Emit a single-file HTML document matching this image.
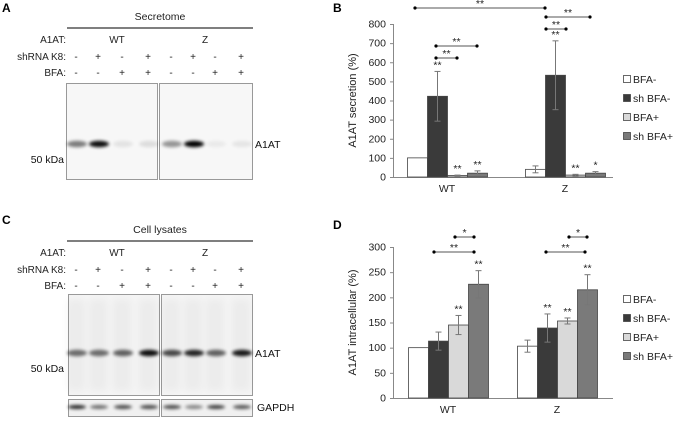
<!DOCTYPE html>
<html><head><meta charset="utf-8"><style>
body{margin:0;background:#fff;width:675px;height:417px;overflow:hidden}
svg{font-family:"Liberation Sans",sans-serif}
</style></head><body>
<svg id="fig" width="675" height="417" viewBox="0 0 675 417">
<defs>
<filter id="bl" x="-50%" y="-100%" width="200%" height="300%"><feGaussianBlur stdDeviation="1.5"/></filter>
<filter id="bl2" x="-50%" y="-50%" width="200%" height="200%"><feGaussianBlur stdDeviation="4"/></filter>
</defs>
<g font-weight="bold" font-size="12" fill="#000">
<text x="2" y="12">A</text>
<text x="333" y="12">B</text>
<text x="2" y="224">C</text>
<text x="333" y="229">D</text>
</g>
<g id="blotA"></g>
<g id="blotC"></g>
<g id="chartB"></g>
<g id="chartD"></g>
</svg>
<script>
const NS="http://www.w3.org/2000/svg";
function mk(p,t,a,txt){const e=document.createElementNS(NS,t);for(const k in a)e.setAttribute(k,a[k]);if(txt!==undefined)e.textContent=txt;p.appendChild(e);return e;}
const lanesX=[76,98,122,148,171,193,215,241];
const shRow=["-","+","-","+","-","+","-","+"];
const bfaRow=["-","-","+","+","-","-","+","+"];
const secretomeBands=[0.5,0.95,0.08,0.1,0.4,1.0,0.05,0.07];
const lysateBands=[0.55,0.55,0.6,0.95,0.7,0.85,0.6,0.9];
const gapdhBands=[0.85,0.55,0.7,0.7,0.7,0.45,0.75,0.65];
function blot(g,o){
  const t=mk(g,"text",{x:160,y:o.top,"font-size":"10.5","text-anchor":"middle",fill:"#222"},o.title);
  
  
  mk(g,"line",{x1:67,x2:253,y1:o.top+8,y2:o.top+8,stroke:"#555","stroke-width":1.5});
  const rows=[["A1AT:",o.top+23],["shRNA K8:",o.top+40],["BFA:",o.top+56]];
  rows.forEach(r=>mk(g,"text",{x:66,y:r[1],"font-size":"10","text-anchor":"end",fill:"#222"},r[0]));
  mk(g,"text",{x:117,y:o.top+23,"font-size":"10","text-anchor":"middle",fill:"#222"},"WT");
  mk(g,"text",{x:205,y:o.top+23,"font-size":"10","text-anchor":"middle",fill:"#222"},"Z");
  lanesX.forEach((x,i)=>{mk(g,"text",{x:x,y:o.top+40,"font-size":"10","text-anchor":"middle",fill:"#222"},shRow[i]);mk(g,"text",{x:x,y:o.top+56,"font-size":"10","text-anchor":"middle",fill:"#222"},bfaRow[i]);});
  [[o.b1x,o.b1w],[o.b2x,o.b2w]].forEach(b=>mk(g,"rect",{x:b[0],y:o.by,width:b[1],height:o.bh,fill:o.bg,stroke:"#999","stroke-width":1}));
  if(o.smear){lanesX.forEach((x,i)=>mk(g,"rect",{x:x-9,y:o.by+5,width:18,height:o.bh-10,fill:"#000",opacity:0.03*o.smear,filter:"url(#bl2)"}));}
  o.bands.forEach((v,i)=>mk(g,"ellipse",{cx:lanesX[i]+1,cy:o.bandY,rx:10,ry:3.2,fill:"#000",opacity:v,filter:"url(#bl)"}));
  mk(g,"text",{x:255,y:o.bandY+4,"font-size":"10.5",fill:"#111"},"A1AT");
  mk(g,"text",{x:64,y:o.bandY+19,"font-size":"10.5","text-anchor":"end",fill:"#111"},"50 kDa");
}
blot(document.getElementById("blotA"),{title:"Secretome",top:20,b1x:66.5,b1w:91,b2x:159.5,b2w:93,by:83.5,bh:96,bg:"#f7f7f7",bandY:144,bands:secretomeBands});
blot(document.getElementById("blotC"),{title:"Cell lysates",top:233,b1x:68.5,b1w:91,b2x:161.5,b2w:91,by:294.5,bh:101,bg:"#f4f4f4",bandY:353,bands:lysateBands,smear:1});
const gC=document.getElementById("blotC");
mk(gC,"rect",{x:68.5,y:399.5,width:91,height:17,fill:"#f0f0f0",stroke:"#999"});
mk(gC,"rect",{x:161.5,y:399.5,width:91,height:17,fill:"#f0f0f0",stroke:"#999"});
gapdhBands.forEach((v,i)=>mk(gC,"ellipse",{cx:lanesX[i]+1,cy:407,rx:9,ry:2,fill:"#000",opacity:v,filter:"url(#bl)"}));
mk(gC,"text",{x:257,y:411,"font-size":"10.5",fill:"#111"},"GAPDH");

const groups=["WT","Z"];
const seriesNames=["BFA-","sh BFA-","BFA+","sh BFA+"];
const colors=["#fff","#3a3a3a","#d9d9d9","#7a7a7a"];
const bWT=[100,422,8,20], bZ=[40,532,10,20];
const bErrWT=[0,130,2,12], bErrZ=[18,180,4,8];
const bTicks=[0,100,200,300,400,500,600,700,800];
const bStarsWT=["","**","**","**"], bStarsZ=["","**","**","*"];
const dWT=[100,113,145,226], dZ=[103,139,153,215];
const dErrWT=[0,18,19,27], dErrZ=[12,28,6,30];
const dTicks=[0,50,100,150,200,250,300];
const dStarsWT=["","","**","**"], dStarsZ=["","**","**","**"];

function chart(g,o){
  const y=v=>o.y0-(v-o.min)/(o.max-o.min)*(o.y0-o.y1);
  const gx=[o.g0,o.g1];
  mk(g,"line",{x1:393.5,x2:393.5,y1:o.y1,y2:o.y0,stroke:"#888"});
  mk(g,"line",{x1:393,x2:613,y1:o.y0+0.5,y2:o.y0+0.5,stroke:"#888"});
  o.ticks.forEach(t=>{mk(g,"line",{x1:390,x2:393,y1:y(t)+0.5,y2:y(t)+0.5,stroke:"#888"});
    const tl=mk(g,"text",{x:386,y:y(t)+3.5,"font-size":"10.5","text-anchor":"end",fill:"#222"},t);
    
    });
  const yt=mk(g,"text",{transform:`translate(${o.titleX},${(o.y0+o.y1)/2}) rotate(-90)`,"font-size":"11","text-anchor":"middle",fill:"#222"},o.title);
  
  
  [o.wt,o.z].forEach((vals,gi)=>{
    const errs=gi?o.ez:o.ew, stars=gi?o.sz:o.sw;
    const xl=mk(g,"text",{x:gx[gi]+40,y:o.y0+15,"font-size":"10.5","text-anchor":"middle",fill:"#222"},groups[gi]);
    
    
    vals.forEach((v,i)=>{
      const x=gx[gi]+i*20;
      const r=mk(g,"rect",{x:x+0.5,y:y(v),width:20,height:o.y0-y(v),fill:colors[i],stroke:"#444","stroke-width":0.8});
      
      
      const e=errs[i];
      if(e>0){const cx=x+10.5;mk(g,"line",{x1:cx,x2:cx,y1:y(v+e),y2:y(v-e),stroke:"#777"});
        mk(g,"line",{x1:cx-3,x2:cx+3,y1:y(v+e),y2:y(v+e),stroke:"#777"});
        mk(g,"line",{x1:cx-3,x2:cx+3,y1:y(v-e),y2:y(v-e),stroke:"#777"});}
      if(stars[i]) mk(g,"text",{x:x+10.5,y:y(v+e)-3,"font-size":"10.5","text-anchor":"middle",fill:"#222"},stars[i]);
    });
  });
  o.legY.forEach((ly,i)=>{mk(g,"rect",{x:623.5,y:ly-4.5,width:7,height:7,fill:colors[i],stroke:"#444","stroke-width":0.8});
    const lt=mk(g,"text",{x:633,y:ly+3,"font-size":"10.5",fill:"#222"},seriesNames[i]);
    
    });
  o.brackets.forEach(b=>{mk(g,"line",{x1:b[0],x2:b[1],y1:b[2],y2:b[2],stroke:"#555"});
    mk(g,"circle",{cx:b[0],cy:b[2],r:1.6,fill:"#000"});mk(g,"circle",{cx:b[1],cy:b[2],r:1.6,fill:"#000"});
    mk(g,"text",{x:(b[0]+b[1])/2,y:b[2]-1,"font-size":"10.5","text-anchor":"middle",fill:"#222"},b[3]);});
}
chart(document.getElementById("chartB"),{y0:177,y1:24,min:0,max:800,ticks:bTicks,g0:407,g1:525,wt:bWT,z:bZ,ew:bErrWT,ez:bErrZ,sw:bStarsWT,sz:bStarsZ,title:"A1AT secretion (%)",titleX:356,legY:[80,99,118,137],
  brackets:[[415,545,8,"**"],[436,457,58,"**"],[436,477,46,"**"],[546,566,29,"**"],[546,590,17,"**"]]});
chart(document.getElementById("chartD"),{y0:398,y1:247,min:0,max:300,ticks:dTicks,g0:408,g1:517,wt:dWT,z:dZ,ew:dErrWT,ez:dErrZ,sw:dStarsWT,sz:dStarsZ,title:"A1AT intracellular (%)",titleX:356,legY:[300,319,338,357],
  brackets:[[434,474,252,"**"],[455,474,237,"*"],[546,585,252,"**"],[569,587,237,"*"]]});
</script>
</body></html>
